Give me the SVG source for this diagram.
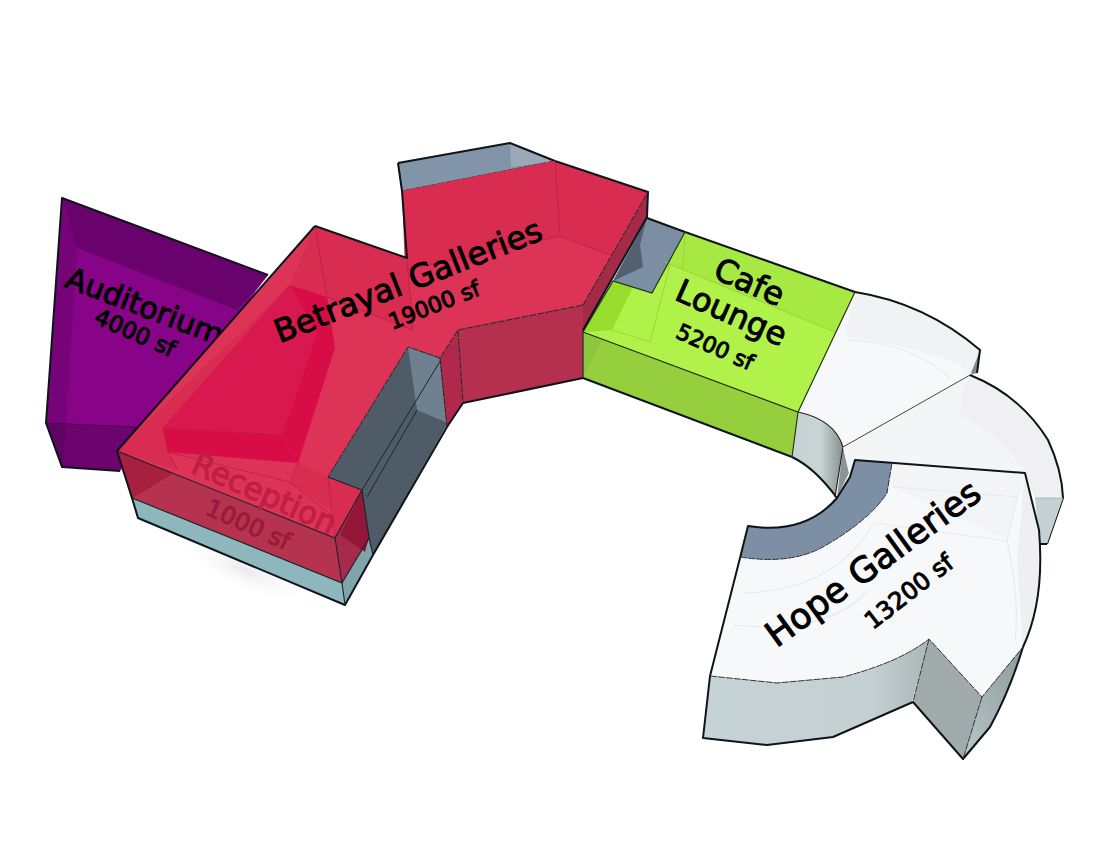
<svg xmlns="http://www.w3.org/2000/svg" width="1110" height="858" viewBox="0 0 1110 858">
<style>
.e{stroke:#0d141a;stroke-width:2;stroke-linejoin:round}
.t{font-family:"DejaVu Sans",sans-serif;fill:#000;text-anchor:middle;stroke:#000;stroke-width:1}
.w{fill:none;stroke:#e8e9ec;stroke-width:1.2}
</style>
<defs>
<linearGradient id="g1" x1="0" x2="1" y1="0" y2="0"><stop offset="0" stop-color="#c6d1d4"/><stop offset=".55" stop-color="#c9d4d6"/><stop offset="1" stop-color="#87918f"/></linearGradient>
<linearGradient id="g2" x1="0" x2="1" y1="0" y2="0"><stop offset="0" stop-color="#c5d2d6"/><stop offset=".75" stop-color="#c5d0d2"/><stop offset="1" stop-color="#aab6b6"/></linearGradient>
<linearGradient id="g3" x1="0" x2="1" y1="1" y2="0"><stop offset="0" stop-color="#b7c6c9"/><stop offset="1" stop-color="#8f9b9b"/></linearGradient>
<radialGradient id="sh"><stop offset="0" stop-color="#b8b8b8" stop-opacity=".3"/><stop offset="1" stop-color="#fff" stop-opacity="0"/></radialGradient>
</defs>
<rect width="1110" height="858" fill="#fff"/>
<ellipse cx="245" cy="570" rx="75" ry="22" fill="url(#sh)" transform="rotate(22 245 570)"/>

<g id="auditorium">
<path d="M62 198L268 275L120 471L62 467L46 423Z" fill="#870489"/>
<path d="M62 198L268 275L237 310L77 248Z" fill="#6a026e"/>
<path d="M62 198L77 248L66 423L46 423Z" fill="#760478"/>
<path d="M46 423L137 427L120 471L62 467Z" fill="#6c036f"/>
<path d="M46 423L66 423L62 467Z" fill="#5d0463"/>
<path class="e" d="M268 275L62 198L46 423L62 467L120 471" fill="none"/>
<path d="M46 423L137 427" stroke="#4c0350" fill="none"/>
<text class="t" font-size="30" transform="translate(141 316) rotate(21)">Auditorium</text>
<text class="t" font-size="23" transform="translate(132 340) rotate(24)">4000 sf</text>
</g>

<g id="hope-galleries">
<path d="M855 292Q925 303 980 350L977 373L970 375Z" fill="#f2f3f5"/>
<path d="M980 350L977 373L970 375Z" fill="#7f8a8c"/>
<path d="M855 292Q925 303 972 374L843 447Q830 420 798 412Z" fill="#f7f8fa"/>
<path d="M855 292Q925 303 980 350L970 375L959 364Q910 345 850 338L845 335Z" fill="#f1f2f4"/>
<path class="e" d="M855 292Q925 303 980 350L977 373" fill="none"/>
<path class="w" d="M848 340Q910 342 950 378"/>
<path d="M798 412Q835 420 843 447L835 497Q815 468 792 457Z" fill="url(#g1)"/>
<path d="M843 447L850 477L837 498Z" fill="#8b9494"/>
<path class="e" d="M792 457Q815 468 837 498" fill="none"/>
<path d="M798 412Q835 420 843 447L835 497" fill="none" stroke="#222" stroke-width="1.2"/>

<path d="M970 375Q1020 395 1048 440Q1062 470 1063 498L1035 498L1025 473L855 460L850 477L843 447Z" fill="#f4f5f7"/>
<path d="M970 375Q1020 395 1048 440Q1062 470 1063 498L1035 498Q1020 445 960 415L962 394Z" fill="#f0f0f2"/>
<path class="e" d="M970 375Q1020 395 1048 440Q1062 470 1063 498L1047 544" fill="none"/>
<path d="M843 447L970 375" stroke="#444" stroke-width="1" fill="none"/>
<path d="M1035 498L1063 498L1047 544L1040 544Z" fill="#c3d1d5"/>
<path d="M1035 498L1063 498" stroke="#596" stroke-opacity=".4" fill="none"/>
<path class="e" d="M1047 544L1040 544" fill="none"/>

<path d="M855 460L1025 473L1039 530Q1045 600 1023 647L982 697L929 639Q900 662 843 677L777 683L710 676L740 558L748 526Q805 535 837 498Z" fill="#f7f8fa"/>
<path d="M892 463L1025 473L1007 540L892 487Z" fill="#f3f4f6"/>
<path d="M1025 473Q1045 540 1038 580Q1035 620 1023 647L1017 560Z" fill="#efeff1"/>
<path class="w" d="M893 487L1017 497M1007 541L874 523M1017 497L1007 541Q1020 600 1015 640M874 523Q835 590 745 593M733 625Q830 635 868 590"/>
<path d="M748 526Q805 535 837 498L850 477L855 460L892 463L887 493Q870 520 823 547Q790 565 740 557Z" fill="#7d8fa5"/>
<path d="M710 676L777 683L843 677Q900 662 929 639L912 702L833 737L767 745L703 738Z" fill="url(#g2)"/>
<path d="M929 639L982 697L963 759L913 702Z" fill="#a2abab"/>
<path d="M982 697L1023 647Q1010 690 990 727L963 759Z" fill="url(#g3)"/>
<path class="e" d="M855 460L1025 473L1039 530Q1045 600 1023 647Q1010 690 990 727L963 759L913 702L833 737L767 745L703 738L710 676L740 558L748 526Q805 535 837 498L850 477Z" fill="none"/>
<path d="M710 676L777 683L843 677Q900 662 929 639L982 697L1023 647M929 639L913 702M982 697L963 759" stroke="#333" fill="none" stroke-dasharray="7 1"/>
<path d="M740 557Q790 565 823 547Q870 520 887 493L892 463" stroke="#333" fill="none" stroke-dasharray="7 1"/>
<text class="t" font-size="35" transform="translate(880 573) rotate(-36)">Hope Galleries</text>
<text class="t" font-size="24" transform="translate(914 598) rotate(-38)">13200 sf</text>
</g>

<g id="cafe-lounge">
<path d="M647 218L685 232L652 293L613 281Z" fill="#7c8ea3"/>
<path d="M647 218L613 281L643 267L640 245Z" fill="#526070"/>
<path d="M647 218L685 232" class="e" fill="none"/>
<path d="M685 232L855 292L798 412L583 332L613 281L652 293Z" fill="#b0f24a"/>
<path d="M685 232L855 292L835 332L670 265L652 293Z" fill="#a7e842"/>
<path d="M613 281L583 332L612 330L633 287Z" fill="#98dc2e"/>
<path d="M612 330L650 342L670 265M685 232L683 270" fill="none" stroke="#9ad83a"/>
<path d="M665 262L835 332" stroke="#98d436" fill="none"/>
<path d="M583 332L798 412L792 457L583 378Z" fill="#96cf3e"/>
<path d="M583 332L602 340L583 378Z" fill="#8cc53e"/>
<path class="e" d="M685 232L855 292" fill="none"/>
<path class="e" d="M583 378L792 457" fill="none"/>
<path d="M792 457L798 412M855 292L798 412L583 332L613 281L652 293L685 232" fill="none" stroke="#1c2a10" stroke-width="1.1"/>
<text class="t" font-size="32" transform="translate(745 292) rotate(24)">Cafe</text>
<text class="t" font-size="32" transform="translate(727 323) rotate(24)">Lounge</text>
<text class="t" font-size="22" transform="translate(712 354) rotate(24)">5200 sf</text>
</g>

<g id="betrayal-galleries">
<path d="M398 163L510 143L555 161L402 191Z" fill="#8194a8"/>
<path d="M510 143L511 167L555 161Z" fill="#9aa9b8"/>
<path d="M398 163L510 143L555 161" class="e" fill="none"/>
<path d="M398 163L402 191L555 161" fill="none" stroke="#16202a" stroke-dasharray="7 1"/>

<path d="M315 226L407 258L402 191L555 161L648 192L583 305L458 330L440 358L408 347L328 477L362 490L335 538L117 451Z" fill="#dc3357"/>
<path d="M402 191L555 161L648 192L610 255L560 236L405 270Z" fill="#d92c51"/>
<path d="M315 226L407 258L413 330L327 297L290 285Z" fill="#d92c51"/>
<path d="M117 451L290 285L163 428L168 452L178 470Z" fill="#d92c51"/>
<path d="M290 285L317 333L282 435L163 428Z" fill="#da1850"/>
<path d="M290 285L327 297L335 348L298 463L282 435L317 333Z" fill="#d80d47"/>
<path d="M163 428L282 435L298 463L168 452Z" fill="#d80d47"/>
<path d="M298 463L328 477L362 490L335 538L333 510L290 484Z" fill="#d92c51"/>
<path d="M168 452L290 482L298 463M290 482L335 518M328 477L335 538M163 428L168 452L178 470M315 226L327 297L413 330L407 258M555 161L560 236L405 270M560 236L610 255" fill="none" stroke="#b81f45" stroke-opacity=".75"/>
<path d="M290 285L163 428L282 435L335 348" fill="none" stroke="#b81f45" stroke-opacity=".6"/>

<path d="M408 347L442 358L448 423L373 555L369 538L362 490L328 477Z" fill="#4f5c68"/>
<path d="M408 347L442 358L448 423L417 410Z" fill="#6f8090"/>
<path d="M442 358L362 490" stroke="#1b252d" fill="none"/>
<path d="M417 410L367 497" stroke="#1b252d" fill="none"/>

<path d="M458 330L463 403L583 378L583 305Z" fill="#b5304f"/>
<path d="M458 330L440 358L447 427L463 403Z" fill="#b0294c"/>
<path d="M583 305L648 192L647 217L583 330Z" fill="#a42b48"/>

<path d="M132 498L342 583L345 605L138 518Z" fill="#8db7bd"/>
<path d="M342 583L369 538L373 555L345 605Z" fill="#7fa5aa"/>

<path d="M117 451L335 538L342 583L132 498Z" fill="#b5334f"/>
<path d="M117 451L173 473L150 488L132 498Z" fill="#a8203f"/>
<path d="M335 538L362 490L369 538L342 583Z" fill="#a62b4a"/>
<path d="M340 535L362 490L369 538L365 552Z" fill="#94173a"/>

<text class="t" font-size="32" transform="translate(412 291) rotate(-21.5)">Betrayal Galleries</text>
<text class="t" font-size="22" transform="translate(437 312) rotate(-21.5)">19000 sf</text>

<path d="M315 226L407 258L402 191M398 163L402 191M555 161L648 192L647 217L583 330M583 378L463 403L447 427L373 555L345 605L138 518L132 498L117 451L315 226" class="e" fill="none"/>
<path d="M117 451L335 538L362 490L328 477M335 538L342 583L345 605M132 498L342 583L369 538L362 490M369 538L373 555M583 330V378" fill="none" stroke="#16202a" stroke-width="1.1"/>
<path d="M583 305L458 330L440 358L408 347L328 477M458 330L463 403M440 358L447 427M583 305L648 192" fill="none" stroke="#222" stroke-dasharray="7 1"/>
</g>

<g id="reception">
<text class="t" font-size="31" style="fill:#bf1f43;stroke:#bf1f43" transform="translate(260 503) rotate(24)">Reception</text>
<text class="t" font-size="24" style="fill:#991a3a;stroke:#991a3a" transform="translate(245 532) rotate(24)">1000 sf</text>
</g>
</svg>
